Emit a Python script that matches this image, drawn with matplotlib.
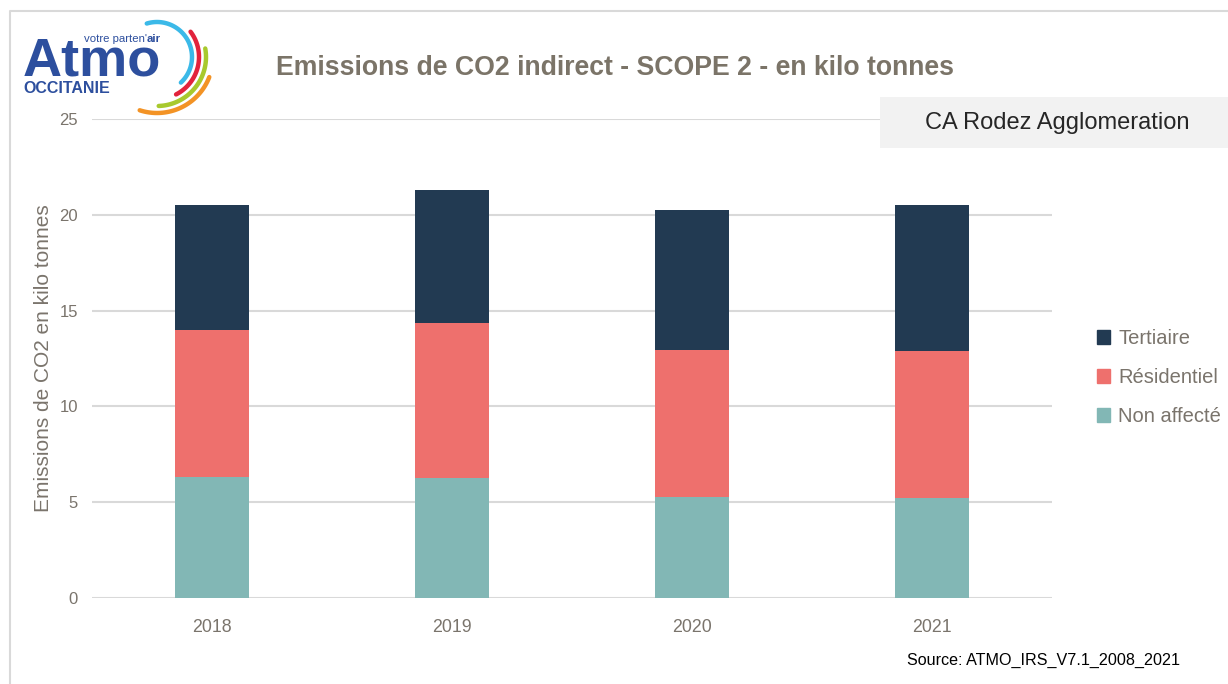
import numpy as np
import matplotlib
matplotlib.use("Agg")
import matplotlib.pyplot as plt
from matplotlib.patches import Rectangle, Patch

years = ["2018", "2019", "2020", "2021"]
non_affecte = [6.32, 6.26, 5.27, 5.22]
residentiel = [7.67, 8.09, 7.67, 7.67]
tertiaire = [6.52, 6.94, 7.31, 7.62]
y_ticks = [0, 5, 10, 15, 20, 25]

c_ter = "#223A52"
c_res = "#EE706D"
c_non = "#82B7B5"
txt_gray = "#7A746C"

NARROW = ["Liberation Sans Narrow", "Liberation Sans", "DejaVu Sans"]
REG = ["Liberation Sans", "DejaVu Sans"]

W, H = 1228, 684
fig = plt.figure(figsize=(W / 100, H / 100), dpi=100)

# overlay in pixel coordinates (below chart)
ov = fig.add_axes([0, 0, 1, 1], zorder=0)
ov.set_xlim(0, W)
ov.set_ylim(H, 0)
ov.axis("off")

# overlay above chart
ov2 = fig.add_axes([0, 0, 1, 1], zorder=2)
ov2.set_xlim(0, W)
ov2.set_ylim(H, 0)
ov2.axis("off")
ov2.patch.set_alpha(0)

# frame border
ov.plot([9.5, 9.5, W + 5], [H + 5, 11, 11], color="#D9D9D9", lw=1.5, solid_capstyle="butt")

# logo
blue = "#2D4F9E"
ov.text(23, 75, "Atmo", fontsize=39, fontweight="bold", color=blue, family=REG, ha="left", va="baseline")
t1 = ov.text(84, 42, "votre parten'", fontsize=8.2, color=blue, family=REG, ha="left", va="baseline")
ov.annotate("air", xy=(1, 0), xycoords=t1, fontsize=8.2, fontweight="bold", color=blue, family=REG,
            ha="left", va="bottom")
ov.text(23, 93, "OCCITANIE", fontsize=11.5, fontweight="bold", color=blue, family=REG, ha="left", va="baseline")
cx, cy = 157, 57
arcs = [(35, -107, 47, "#3BB9E8"), (42, -37, 63, "#E2233C"),
        (49, -10, 88, "#A8C92D"), (56, 21, 108, "#F39325")]
for r, a0, a1, col in arcs:
    t = np.radians(np.linspace(a0, a1, 80))
    ov.plot(cx + r * np.cos(t), cy + r * np.sin(t), color=col, lw=3.2, solid_capstyle="round")

# title
ov.text(615, 68, "Emissions de CO2 indirect - SCOPE 2 - en kilo tonnes", fontsize=19.2, fontweight="bold",
        color="#7B7468", family=NARROW, ha="center", va="center")

# territory box (above gridlines)
ov2.add_patch(Rectangle((880, 97), 348, 51, facecolor="#F2F2F2", edgecolor="none"))
ov2.text(1057, 123, "CA Rodez Agglomeration", fontsize=17, color="#262626", family=NARROW,
         ha="center", va="center")

# source
ov.text(907, 660, "Source: ATMO_IRS_V7.1_2008_2021", fontsize=11.6, color="#000000", family=NARROW,
        ha="left", va="center")

# main axes
ax = fig.add_axes([92 / W, 1 - 598 / H, 960 / W, (598 - 119) / H], zorder=1)
ax.patch.set_alpha(0)
x = np.arange(len(years))
bw = 0.31
ax.bar(x, non_affecte, width=bw, color=c_non, zorder=3)
ax.bar(x, residentiel, width=bw, bottom=non_affecte, color=c_res, zorder=3)
bot2 = np.array(non_affecte) + np.array(residentiel)
ax.bar(x, tertiaire, width=bw, bottom=bot2, color=c_ter, zorder=3)

ax.set_xlim(-0.5, len(years) - 0.5)
ax.set_ylim(0, 25)
ax.set_yticks(y_ticks)
ax.set_xticks(x)
ax.set_xticklabels(years)
ax.yaxis.grid(True, color="#D9D9D9", lw=1.5, zorder=0)
ax.set_axisbelow(True)
for s in ax.spines.values():
    s.set_visible(False)
ax.tick_params(axis="both", length=0)
ax.tick_params(axis="y", pad=10, labelsize=12, labelcolor=txt_gray)
ax.tick_params(axis="x", pad=15, labelsize=12.8, labelcolor=txt_gray)
for lab in ax.get_xticklabels() + ax.get_yticklabels():
    lab.set_family(NARROW)

fig.text(44 / W, 1 - 358 / H, "Emissions de CO2 en kilo tonnes", rotation=90, fontsize=15,
         color=txt_gray, family=NARROW, ha="center", va="center")

handles = [Patch(color=c_ter), Patch(color=c_res), Patch(color=c_non)]
leg = fig.legend(handles, ["Tertiaire", "Résidentiel", "Non affecté"], loc="upper left",
                 bbox_to_anchor=(1097 / W, 1 - 329 / H), frameon=False,
                 prop={"family": NARROW, "size": 14.5}, handlelength=0.65, handleheight=0.65,
                 labelspacing=1.0, handletextpad=0.4, borderaxespad=0, borderpad=0)
for t in leg.get_texts():
    t.set_color(txt_gray)

fig.savefig("out.png", dpi=100)
